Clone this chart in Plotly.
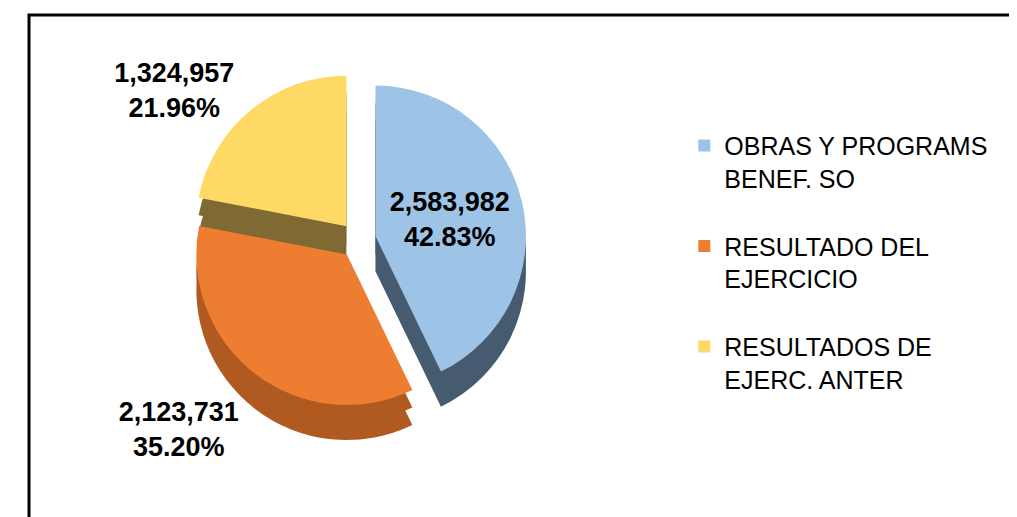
import plotly.graph_objects as go

labels = ["OBRAS Y PROGRAMS<br>BENEF. SO<br> ", "RESULTADO DEL<br>EJERCICIO<br> ", "RESULTADOS DE<br>EJERC. ANTER<br> "]
values = [2583982, 2123731, 1324957]
colors = ["#9DC3E6", "#ED7D31", "#FFD966"]
side_colors = ["#465B70", "#B05A22", "#7E6A32"]

FONT = "Liberation Sans, Arial, sans-serif"
pulls = [0.12, 0.12, 0.12]
label_tpl = "<b>%{value:,.0f}<br>%{percent:.2%}</b>"

top_domain_y = [0.225, 0.877]
dom_x = [0.177, 0.511]
depth = 0.068  # side-wall depth as fraction of figure height

fig = go.Figure()
# darker copies drawn below the top face to suggest the side walls of the 3D pie
for k, frac in enumerate([1.0, 0.5]):
    off = depth * frac
    fig.add_trace(go.Pie(
        labels=labels,
        values=values,
        sort=False,
        direction="clockwise",
        rotation=0,
        pull=pulls,
        marker=dict(colors=side_colors, line=dict(width=0)),
        texttemplate=["", label_tpl, ""] if k == 0 else "",
        textposition=["none", "outside", "none"] if k == 0 else "none",
        textfont=dict(family=FONT, size=27, color="black"),
        showlegend=False,
        hoverinfo="skip",
        domain=dict(x=dom_x, y=[top_domain_y[0] - off, top_domain_y[1] - off]),
    ))
fig.add_trace(go.Pie(
    labels=labels,
    values=values,
    sort=False,
    direction="clockwise",
    rotation=0,
    pull=pulls,
    marker=dict(colors=colors, line=dict(color="white", width=0)),
    texttemplate=[label_tpl, "", label_tpl],
    textposition=["inside", "none", "outside"],
    insidetextorientation="horizontal",
    textfont=dict(family=FONT, size=27, color="black"),
    domain=dict(x=dom_x, y=top_domain_y),
    hoverinfo="label+value+percent",
))

fig.update_layout(
    width=1017, height=517,
    margin=dict(l=0, r=0, t=0, b=0),
    paper_bgcolor="white",
    plot_bgcolor="white",
    font=dict(family=FONT, color="black"),
    showlegend=True,
    legend=dict(
        x=0.665, y=0.778, xanchor="left", yanchor="top",
        font=dict(family=FONT, size=25, color="black"),
        valign="top",
        bgcolor="rgba(0,0,0,0)",
    ),
    shapes=[dict(
        type="rect", xref="paper", yref="paper",
        x0=21/1017, x1=1012/1017, y0=-0.2, y1=1-7/517,
        line=dict(color="black", width=3), fillcolor="rgba(0,0,0,0)",
    )],
)

fig.write_html("out.html")
